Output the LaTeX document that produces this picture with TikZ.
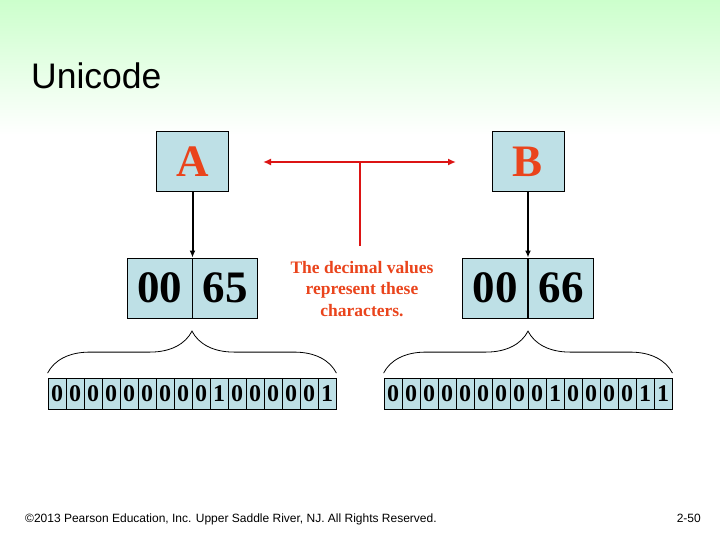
\documentclass[tikz,border=0pt]{standalone}
\usepackage{fontspec}
\setmainfont{Liberation Serif}
\setsansfont{Liberation Sans}
\usepackage{tikz}
\usetikzlibrary{positioning, arrows.meta, decorations.pathreplacing}

\definecolor{boxblue}{RGB}{190,224,230}
\definecolor{letterred}{RGB}{234,68,28}
\definecolor{arrowred}{RGB}{220,20,20}
\definecolor{topgreen}{RGB}{204,255,204}

\begin{document}
\begin{tikzpicture}[x=1pt, y=-1pt,
    charbox/.style={draw, fill=boxblue, line width=1pt, minimum width=72pt, minimum height=60pt, inner sep=0pt,
      font=\fontsize{45}{45}\selectfont\bfseries, text=letterred},
    codecell/.style={draw, fill=boxblue, line width=1pt, minimum width=65pt, minimum height=60pt, inner sep=0pt,
      font=\fontsize{45}{45}\selectfont\bfseries},
    bitcell/.style={draw, fill=boxblue, line width=0.8pt, minimum width=18pt, minimum height=31pt, inner sep=0pt,
      font=\fontsize{24}{24}\selectfont\bfseries},
    blackarrow/.style={line width=2pt, -{Latex[length=7pt, width=6pt]}},
    redline/.style={draw=arrowred, line width=2.8pt},
    thinbrace/.style={decorate, decoration={brace, amplitude=42pt}, line width=0.8pt}]

      % Background
      \fill[white] (0,0) rectangle (720,540);
      \shade[top color=topgreen, bottom color=white] (0,0) rectangle (720,135);
      \useasboundingbox (0,0) rectangle (720,540);

      % Title
      \node[anchor=base west, inner sep=0pt, font=\sffamily\fontsize{35.5}{35.5}\selectfont] (title) at (31,89) {Unicode};

      % Characters
      \node[charbox] (charA) at (192.5,162) {A};
      \node[charbox] (charB) at (528,162) {B};

      % Code boxes
      \node[codecell] (codeAhi) at (159.5,288) {00};
      \node[codecell] (codeAlo) at (225,288) {65};
      \node[codecell] (codeBhi) at (495,288) {00};
      \node[codecell] (codeBlo) at (561,288) {66};

      % Caption
      \node[align=center, text=letterred, font=\fontsize{17.5}{21.5}\selectfont\bfseries] (caption) at (362,289)
  {The decimal values\\represent these\\characters.};

      % Red connector
      \coordinate (redL) at (263,162);
      \coordinate (redR) at (456,162);
      \coordinate (redM) at (360,162);
      \coordinate (redS) at (360,246);
      \draw[redline, {Latex[length=8pt, width=7pt]}-{Latex[length=8pt, width=7pt]}] (redL) -- (redR);
      \draw[redline] (redS) -- (redM);

      % Arrows
      \draw[blackarrow] (charA.south) -- (codeAhi.north east);
      \draw[blackarrow] (charB.south) -- (codeBhi.north east);

      % Bits
      \foreach \b [count=\i from 0] in {0,0,0,0,0,0,0,0,0,1,0,0,0,0,0,1}
        \node[bitcell] (bitA\i) at (57+18*\i,394) {\b};
      \foreach \b [count=\i from 0] in {0,0,0,0,0,0,0,0,0,1,0,0,0,0,1,1}
        \node[bitcell] (bitB\i) at (393+18*\i,394) {\b};

      % Braces
      \draw[thinbrace] (bitA0.north west) ++(0,-5) coordinate (braceAl) -- (bitA15.north east |- braceAl);
      \draw[thinbrace] (bitB0.north west) ++(0,-5) coordinate (braceBl) -- (bitB15.north east |- braceBl);

      % Footer
      \node[anchor=base west, inner sep=0pt, font=\sffamily\fontsize{12}{12}\selectfont] (footer) at (25,522)
  {\textcopyright2013 Pearson Education, Inc. Upper Saddle River, NJ. All Rights Reserved.};
      \node[anchor=base east, inner sep=0pt, font=\sffamily\fontsize{12}{12}\selectfont] (pagenum) at (701,522) {2-50};
  \end{tikzpicture}
\end{document}
